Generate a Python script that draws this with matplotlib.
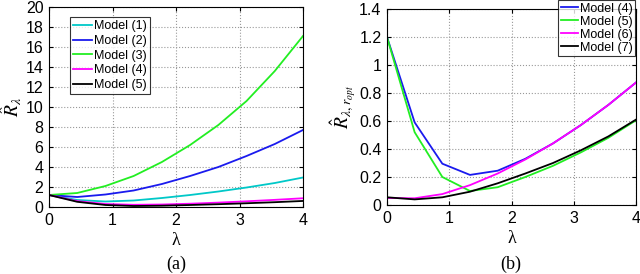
import matplotlib.pyplot as plt
import numpy as np

# lambda grid of the simulations (10 points from 0 to 4)
lam = [0, 0.444, 0.889, 1.333, 1.778, 2.222, 2.667, 3.111, 3.556, 4.0]

# panel (a)
a_m1 = [1.2, 0.70, 0.55, 0.65, 0.90, 1.20, 1.55, 1.95, 2.40, 2.95]
a_m2 = [1.2, 1.00, 1.25, 1.65, 2.30, 3.10, 4.00, 5.10, 6.30, 7.70]
a_m3 = [1.2, 1.40, 2.10, 3.10, 4.50, 6.20, 8.20, 10.6, 13.6, 17.1]
a_m4 = [1.2, 0.59, 0.30, 0.22, 0.25, 0.33, 0.44, 0.57, 0.715, 0.875]
a_m5 = [1.2, 0.52, 0.20, 0.10, 0.13, 0.20, 0.28, 0.375, 0.48, 0.605]

# panel (b)
b_m4 = [1.2, 0.59, 0.295, 0.215, 0.245, 0.33, 0.44, 0.57, 0.715, 0.875]
b_m5 = [1.2, 0.52, 0.20, 0.10, 0.127, 0.20, 0.28, 0.375, 0.48, 0.605]
b_m6 = [0.05, 0.048, 0.078, 0.142, 0.225, 0.325, 0.44, 0.57, 0.715, 0.875]
b_m7 = [0.055, 0.04, 0.055, 0.095, 0.155, 0.225, 0.30, 0.39, 0.49, 0.61]

cyan = '#00c8c8'
blue = '#1a1aee'
green = '#22ee22'
magenta = '#ff00ff'

plt.rcParams['font.family'] = ['Liberation Sans', 'DejaVu Sans']
plt.rcParams['mathtext.fontset'] = 'stix'

fig = plt.figure(figsize=(6.4, 2.74), dpi=100)
W, H = 640.0, 274.0
ax1 = fig.add_axes([49 / W, 1 - 207 / H, (303 - 49) / W, (207 - 7) / H])
ax2 = fig.add_axes([387 / W, 1 - 205 / H, (636 - 387) / W, (205 - 9) / H])

lw = 1.3
ax1.plot(lam, a_m1, color=cyan, lw=lw, label='Model (1)')
ax1.plot(lam, a_m2, color=blue, lw=lw, label='Model (2)')
ax1.plot(lam, a_m3, color=green, lw=lw, label='Model (3)')
ax1.plot(lam, a_m4, color=magenta, lw=lw, label='Model (4)')
ax1.plot(lam, a_m5, color='black', lw=lw, label='Model (5)')
ax1.set_xlim(0, 4)
ax1.set_ylim(0, 20)
ax1.set_yticks(np.arange(0, 21, 2))
ax1.set_ylabel(r'$\hat{R}_{\lambda}$', fontsize=14, labelpad=1)

ax2.plot(lam, b_m4, color=blue, lw=lw, label='Model (4)')
ax2.plot(lam, b_m5, color=green, lw=lw, label='Model (5)')
ax2.plot(lam, b_m6, color=magenta, lw=lw, label='Model (6)')
ax2.plot(lam, b_m7, color='black', lw=lw, label='Model (7)')
ax2.set_xlim(0, 4)
ax2.set_ylim(0, 1.4)
ax2.set_yticks([0, 0.2, 0.4, 0.6, 0.8, 1.0, 1.2, 1.4])
ax2.set_yticklabels(['0', '0.2', '0.4', '0.6', '0.8', '1', '1.2', '1.4'])
ax2.set_ylabel(r'$\hat{R}_{\lambda,r_{opt}}$', fontsize=14, labelpad=1)

for ax in (ax1, ax2):
    ax.set_xticks([0, 1, 2, 3, 4])
    ax.grid(True, linestyle=':', color='#999999', linewidth=0.8)
    ax.tick_params(direction='in', labelsize=11.5, length=3, pad=4,
                   top=True, right=True)
    ax.set_xlabel('λ', fontsize=13, family='Liberation Serif', labelpad=3)
    for s in ax.spines.values():
        s.set_linewidth(0.8)

leg1 = ax1.legend(loc='upper left', bbox_to_anchor=(0.083, 0.95), fontsize=9,
                  frameon=True, fancybox=False, edgecolor='black',
                  borderpad=0.25, labelspacing=0.22, handlelength=1.5,
                  handletextpad=0.2, borderaxespad=0)
leg1.get_frame().set_linewidth(0.8)
leg2 = ax2.legend(loc='upper right', bbox_to_anchor=(0.997, 1.045), fontsize=9,
                  frameon=True, fancybox=False, edgecolor='black',
                  borderpad=0.2, labelspacing=0.08, handlelength=1.35,
                  handletextpad=0.2, borderaxespad=0)
leg2.get_frame().set_linewidth(0.8)

fig.text(176 / W, 1 - 264 / H, '(a)', ha='center', va='center',
         fontsize=13, family='Liberation Serif')
fig.text(511 / W, 1 - 264 / H, '(b)', ha='center', va='center',
         fontsize=13, family='Liberation Serif')

fig.savefig('out.png', dpi=100)
